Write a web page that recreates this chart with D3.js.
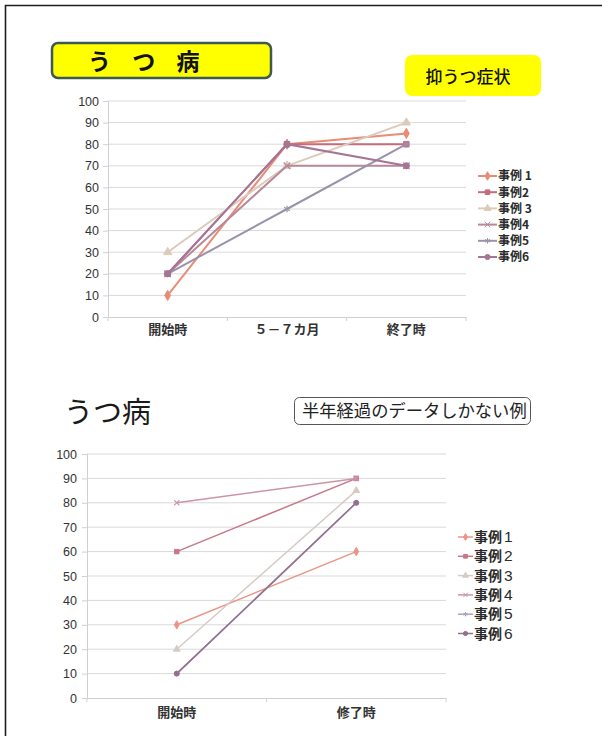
<!DOCTYPE html>
<html><head><meta charset="utf-8">
<script src="https://cdn.jsdelivr.net/npm/d3@7"></script>
<style>
html,body{margin:0;padding:0;background:#fff;}
svg{display:block;}
</style></head>
<body>
<svg id="c" width="602" height="736"></svg>
<script>
// ---------- data ----------
const yTicks = [0,10,20,30,40,50,60,70,80,90,100];

const cats1 = ["開始時", "５－７カ月", "終了時"];
const names1 = ["事例 1", "事例2", "事例 3", "事例4", "事例5", "事例6"];
const values1 = [
  [10, 80, 85],
  [20, 80, 80],
  [30, 70, 90],
  [20, 70, 70],
  [20, 50, 80],
  [20, 80, 70]
];

const cats2 = ["開始時", "修了時"];
const names2 = ["事例", "事例", "事例", "事例", "事例", "事例"];
const nums2 = ["1", "2", "3", "4", "5", "6"];
const values2 = [
  [30, 60],
  [60, 90],
  [20, 85],
  [80, 90],
  [10, 80],
  [10, 80]
];

const colors1 = ["#e98c76", "#c46c7c", "#dccbbb", "#b9879a", "#9a92ab", "#a47594"];
const colors2 = ["#eb9486", "#c47888", "#d6cbc3", "#cc95a6", "#aaa3bb", "#94708f"];
const symbols = [d3.symbolDiamond, d3.symbolSquare, d3.symbolTriangle, d3.symbolTimes, d3.symbolAsterisk, d3.symbolCircle];

const svg = d3.select("#c");
const CJK = "'Noto Sans CJK JP','Noto Sans',sans-serif";
const NUM = "'Liberation Sans',Arial,sans-serif";

// page frame
svg.append("path").attr("d","M5.5,736 L5.5,5.5 L602,5.5")
  .attr("fill","none").attr("stroke","#1e1e1e").attr("stroke-width",1.6);

function drawChart(o){
  const g = svg.append("g");
  const x = d3.scaleBand().domain(o.cats).range([o.x0, o.x1]);
  const y = d3.scaleLinear().domain([0,100]).range([o.y0, o.y1]);
  // grid
  g.selectAll(".grid").data(yTicks.filter(d=>d>0)).join("line")
    .attr("x1",o.x0).attr("x2",o.x1)
    .attr("y1",d=>y(d)).attr("y2",d=>y(d))
    .attr("stroke","#d9d9d9").attr("stroke-width",1);
  // y axis
  const ya = g.append("g").attr("transform",`translate(${o.x0},0)`)
    .call(d3.axisLeft(y).tickValues(yTicks).tickSize(5).tickPadding(o.yPad));
  ya.select(".domain").attr("stroke","#d0d0d0");
  ya.selectAll(".tick line").attr("stroke","#d0d0d0");
  ya.selectAll("text").attr("font-family",NUM).attr("font-size",o.yFont).attr("fill","#333");
  // x axis
  const xa = g.append("g").attr("transform",`translate(0,${o.y0})`)
    .call(d3.axisBottom(x).tickSize(0).tickPadding(o.xPad));
  xa.select(".domain").attr("stroke","#d0d0d0");
  xa.selectAll("text").attr("font-family",CJK).attr("font-weight","bold")
    .attr("font-size",o.xFont).attr("fill","#333");
  // boundary ticks
  const bounds = o.cats.map(c=>x(c)).concat([o.x1]);
  g.selectAll(".bt").data(bounds).join("line")
    .attr("x1",d=>d).attr("x2",d=>d).attr("y1",o.y0).attr("y2",o.y0+4)
    .attr("stroke","#d0d0d0");
  // series
  const line = d3.line().x((d,i)=>x(o.cats[i])+x.bandwidth()/2).y(d=>y(d));
  o.values.forEach((vals,si)=>{
    g.append("path").attr("d",line(vals)).attr("fill","none")
      .attr("stroke",o.colors[si]).attr("stroke-width",o.lw);
    vals.forEach((v,i)=>{
      const filled = si!==3 && si!==4;
      g.append("path").attr("d",d3.symbol(symbols[si], o.msize)())
        .attr("transform",`translate(${x(o.cats[i])+x.bandwidth()/2},${y(v)})`)
        .attr("fill",filled?o.colors[si]:"none")
        .attr("stroke",o.colors[si]).attr("stroke-width",filled?1:1.2);
    });
  });
  // legend
  const lg = g.append("g");
  o.names.forEach((n,si)=>{
    const ly = o.ly0 + si*o.ldy;
    lg.append("line").attr("x1",o.lx).attr("x2",o.lx+o.llen).attr("y1",ly).attr("y2",ly)
      .attr("stroke",o.colors[si]).attr("stroke-width",o.lw);
    const filled = si!==3 && si!==4;
    lg.append("path").attr("d",d3.symbol(symbols[si], o.msize*0.7)())
      .attr("transform",`translate(${o.lx+o.llen/2},${ly})`)
      .attr("fill",filled?o.colors[si]:"none")
      .attr("stroke",o.colors[si]).attr("stroke-width",1);
    const t = lg.append("text").attr("x",o.lx+o.llen+1).attr("y",ly).attr("dy","0.36em")
      .attr("font-family",CJK).attr("font-size",o.lFont).attr("font-weight","bold").attr("fill","#2a2a2a");
    t.append("tspan").text(n);
    if (o.nums) t.append("tspan").attr("font-weight","normal").attr("font-family",NUM)
      .attr("font-size",o.lFont+1.5).attr("dx",2).text(o.nums[si]);
  });
}

// ----- chart 1 -----
svg.append("rect").attr("x",52).attr("y",43).attr("width",219).attr("height",35).attr("rx",6)
  .attr("fill","#ffff00").attr("stroke","#3d5a52").attr("stroke-width",2.5);
svg.append("text").attr("x",88).attr("y",70).text("う つ 病")
  .attr("font-family",CJK).attr("font-weight","bold").attr("font-size",23).attr("letter-spacing",8).attr("fill","#111");
svg.append("rect").attr("x",405).attr("y",55).attr("width",136).attr("height",41).attr("rx",7)
  .attr("fill","#ffff00");
svg.append("text").attr("x",468).attr("y",83).attr("text-anchor","middle").text("抑うつ症状")
  .attr("font-family",CJK).attr("font-weight",500).attr("font-size",17).attr("fill","#111");

drawChart({cats:cats1, names:names1, values:values1, colors:colors1,
  x0:108, x1:466, y0:317, y1:101, yFont:12.5, yPad:4, xFont:13, xPad:8,
  lw:2, msize:30, lx:478, llen:19, ly0:176, ldy:16.2, lFont:12});

// ----- chart 2 -----
svg.append("text").attr("x",64).attr("y",423).text("うつ病")
  .attr("font-family",CJK).attr("font-size",29).attr("fill","#1a1a1a");
svg.append("rect").attr("x",294.5).attr("y",397.5).attr("width",236).attr("height",27).attr("rx",5)
  .attr("fill","#fff").attr("stroke","#555").attr("stroke-width",1);
svg.append("text").attr("x",302).attr("y",417).text("半年経過のデータしかない例")
  .attr("font-family",CJK).attr("font-size",17.3).attr("fill","#222");

drawChart({cats:cats2, names:names2, nums:nums2, values:values2, colors:colors2,
  x0:87, x1:446, y0:698, y1:454, yFont:12.5, yPad:5, xFont:13, xPad:10,
  lw:1.5, msize:20, lx:458, llen:15, ly0:537, ldy:19.3, lFont:14});
</script>
</body></html>
